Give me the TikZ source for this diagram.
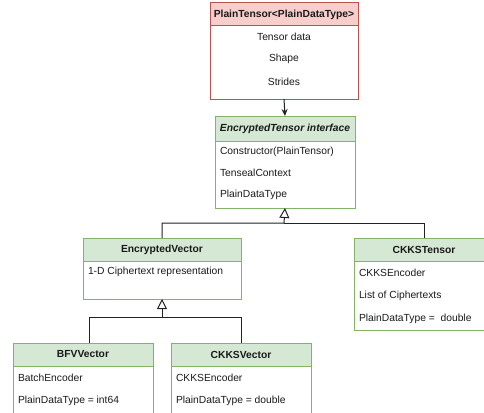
\documentclass[tikz,border=0pt]{standalone}
\usepackage{fontspec}
\setmainfont{Liberation Sans}
\usetikzlibrary{arrows.meta}
\definecolor{gfill}{HTML}{D5E8D4}
\definecolor{gline}{HTML}{82B366}
\definecolor{rfill}{HTML}{F8CECC}
\definecolor{rline}{HTML}{B85450}
\definecolor{txtc}{HTML}{1A1A1A}
\definecolor{conc}{HTML}{222222}
\begin{document}
\begin{tikzpicture}[x=1pt,y=-1pt,
  every node/.style={inner sep=0pt, outer sep=0pt, text=txtc},
  fnt/.style={font=\fontsize{10.3}{12}\selectfont},
  ghead/.style={draw=gline, fill=gfill, line width=1pt, anchor=north west, fnt, font=\fontsize{10.3}{12}\selectfont\bfseries},
  gbody/.style={draw=gline, fill=white, line width=1pt, anchor=north west},
  rhead/.style={draw=rline, fill=rfill, line width=1pt, anchor=north west, font=\fontsize{10.3}{12}\selectfont\bfseries},
  rbody/.style={draw=rline, fill=white, line width=1pt, anchor=north west},
  rowl/.style={fnt, anchor=west},
  rowc/.style={fnt, anchor=center},
  conn/.style={draw=conc, line width=1pt},
  dep/.style={conn, -{Stealth[length=7pt,width=6pt]}},
  inh/.style={conn, -{Triangle[length=10pt,width=10pt,fill=white]}}
]
\useasboundingbox (0,0) rectangle (484,412);
\clip (0,0) rectangle (484,412);
\fill[white] (0,0) rectangle (484,412);

% PlainTensor
\node[rbody, minimum width=148pt, minimum height=73pt] (ptB) at (210,26) {};
\node[rhead, minimum width=148pt, minimum height=23pt] (ptH) at (210,3) {PlainTensor<PlainDataType>};
\node[rowc] (pt1) at (284,37) {Tensor data};
\node[rowc] (pt2) at (284,59) {Shape};
\node[rowc] (pt3) at (284,82) {Strides};

% EncryptedTensor interface
\node[gbody, minimum width=140pt, minimum height=67pt] (etB) at (215,141) {};
\node[ghead, minimum width=140pt, minimum height=25pt] (etH) at (215,116) {\itshape EncryptedTensor interface};
\node[rowl] (et1) at (220,152) {Constructor(PlainTensor)};
\node[rowl] (et2) at (220,173) {TensealContext};
\node[rowl] (et3) at (220,195) {PlainDataType};

% EncryptedVector
\node[gbody, minimum width=158pt, minimum height=38pt] (evB) at (83,261) {};
\node[ghead, minimum width=158pt, minimum height=23pt] (evH) at (83,238) {EncryptedVector};
\node[rowl] (ev1) at (88,272) {1-D Ciphertext representation};

% CKKSTensor
\node[gbody, minimum width=140pt, minimum height=69pt] (ctB) at (354,261) {};
\node[ghead, minimum width=140pt, minimum height=23pt] (ctH) at (354,238) {CKKSTensor};
\node[rowl] (ct1) at (359,273) {CKKSEncoder};
\node[rowl] (ct2) at (359,296) {List of Ciphertexts};
\node[rowl] (ct3) at (359,319) {PlainDataType =\ \ double};

% BFVVector
\node[gbody, minimum width=140pt, minimum height=60pt] (bfvB) at (13,366) {};
\node[ghead, minimum width=140pt, minimum height=23pt] (bfvH) at (13,343) {BFVVector};
\node[rowl] (bfv1) at (18,378) {BatchEncoder};
\node[rowl] (bfv2) at (18,401) {PlainDataType = int64};

% CKKSVector
\node[gbody, minimum width=140pt, minimum height=60pt] (ckvB) at (171,366) {};
\node[ghead, minimum width=140pt, minimum height=23pt] (ckvH) at (171,343) {CKKSVector};
\node[rowl] (ckv1) at (176,378) {CKKSEncoder};
\node[rowl] (ckv2) at (176,401) {PlainDataType = double};

% connectors
\coordinate (j1) at (284,223);
\coordinate (j2) at (162,317);
\draw[dep] (ptB.south) -- (etH.north);
\draw[inh] (evH.north) |- (j1) -- (etB.south);
\draw[conn] (ctH.north) |- (j1);
\draw[inh] (ckvH.north) |- (j2) -- (evB.south);
\draw[conn] ([xshift=6pt]bfvH.north) |- (j2);
\end{tikzpicture}
\end{document}
